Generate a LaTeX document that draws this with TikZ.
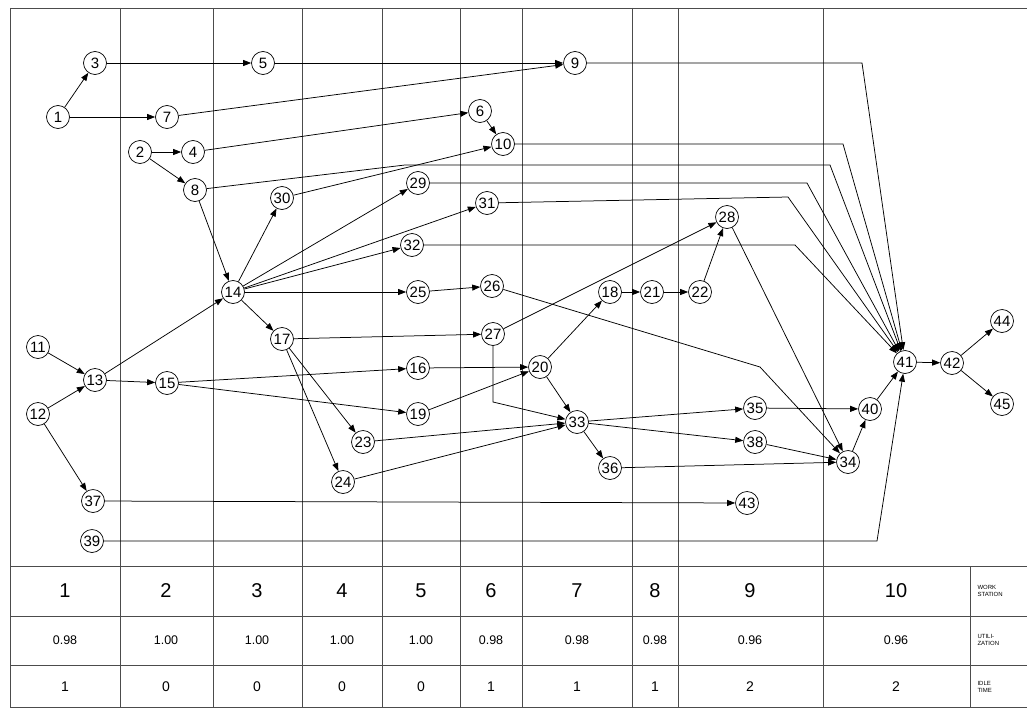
\documentclass[tikz,border=0pt]{standalone}
\usepackage{fontspec}
\setmainfont{Liberation Sans}
\usetikzlibrary{arrows.meta}

\begin{document}
\begin{tikzpicture}[x=1pt,y=-1pt,
  gridline/.style={line width=0.8pt,black!70},
  task/.style={circle,draw,line width=0.7pt,fill=white,minimum size=23pt,inner sep=0pt,
    font=\fontsize{15}{15}\selectfont},
  flow/.style={line width=0.75pt,-{Triangle[length=8pt,width=6pt]}},
  wsnum/.style={font=\fontsize{20}{20}\selectfont},
  utnum/.style={font=\fontsize{12.5}{12.5}\selectfont},
  idnum/.style={font=\fontsize{14}{14}\selectfont},
  rowlabel/.style={font=\fontsize{6}{6.5}\selectfont,align=left,anchor=west}]

\useasboundingbox (0,0) rectangle (1027,709);

% station grid and table rules
\draw[gridline] (10,8) -- (1027,8);
\draw[gridline] (10,8) -- (10,707);
\foreach \gx in {120,213,302,382,460,522,632,678,823}
  \draw[gridline] (\gx,8) -- (\gx,707);
\draw[gridline] (970,566) -- (970,707);
\foreach \gy in {566,616,665,707}
  \draw[gridline] (10,\gy) -- (1027,\gy);

% tasks
\node[task] (n1)  at (58,117)  {1};
\node[task] (n3)  at (95,63)   {3};
\node[task] (n5)  at (263,63)  {5};
\node[task] (n7)  at (167,117) {7};
\node[task] (n9)  at (575,63)  {9};
\node[task] (n2)  at (140,152) {2};
\node[task] (n4)  at (193,152) {4};
\node[task] (n6)  at (480,111) {6};
\node[task] (n10) at (503,144) {10};
\node[task] (n8)  at (195,190) {8};
\node[task] (n30) at (282,198) {30};
\node[task] (n29) at (418,183) {29};
\node[task] (n31) at (487,203) {31};
\node[task] (n32) at (412,245) {32};
\node[task] (n28) at (727,217) {28};
\node[task] (n14) at (233,292) {14};
\node[task] (n25) at (418,292) {25};
\node[task] (n26) at (492,286) {26};
\node[task] (n18) at (610,292) {18};
\node[task] (n21) at (652,292) {21};
\node[task] (n22) at (700,292) {22};
\node[task] (n17) at (282,339) {17};
\node[task] (n27) at (493,334) {27};
\node[task] (n11) at (38,347)  {11};
\node[task] (n13) at (95,380)  {13};
\node[task] (n12) at (38,414)  {12};
\node[task] (n15) at (167,383) {15};
\node[task] (n16) at (418,368) {16};
\node[task] (n20) at (540,367) {20};
\node[task] (n19) at (418,414) {19};
\node[task] (n23) at (363,442) {23};
\node[task] (n24) at (343,482) {24};
\node[task] (n33) at (577,422) {33};
\node[task] (n36) at (610,468) {36};
\node[task] (n35) at (755,408) {35};
\node[task] (n38) at (755,442) {38};
\node[task] (n34) at (848,462) {34};
\node[task] (n40) at (870,409) {40};
\node[task] (n41) at (905,362) {41};
\node[task] (n42) at (952,363) {42};
\node[task] (n44) at (1002,321) {44};
\node[task] (n45) at (1002,404) {45};
\node[task] (n43) at (747,503) {43};
\node[task] (n37) at (93,501)  {37};
\node[task] (n39) at (92,541)  {39};

% bend points of routed connectors
\coordinate (b9)  at (862,63);
\coordinate (b10) at (843,144);
\coordinate (b8a) at (405,165);
\coordinate (b8b) at (830,165);
\coordinate (b29) at (807,183);
\coordinate (b31) at (788,197);
\coordinate (b32) at (795,245);
\coordinate (b26) at (760,367);
\coordinate (b27) at (493,402);
\coordinate (b39) at (877,541);

% precedence relations
\draw[flow] (n1) -- (n3);
\draw[flow] (n1) -- (n7);
\draw[flow] (n3) -- (n5);
\draw[flow] (n5) -- (n9);
\draw[flow] (n7) -- (n9);
\draw[flow] (n2) -- (n4);
\draw[flow] (n2) -- (n8);
\draw[flow] (n4) -- (n6);
\draw[flow] (n6) -- (n10);
\draw[flow] (n30) -- (n10);
\draw[flow] (n8) -- (n14);
\draw[flow] (n13) -- (n14);
\draw[flow] (n11) -- (n13);
\draw[flow] (n12) -- (n13);
\draw[flow] (n12) -- (n37);
\draw[flow] (n13) -- (n15);
\draw[flow] (n14) -- (n30);
\draw[flow] (n14) -- (n29);
\draw[flow] (n14) -- (n31);
\draw[flow] (n14) -- (n32);
\draw[flow] (n14) -- (n25);
\draw[flow] (n14) -- (n17);
\draw[flow] (n25) -- (n26);
\draw[flow] (n17) -- (n27);
\draw[flow] (n17) -- (n23);
\draw[flow] (n17) -- (n24);
\draw[flow] (n15) -- (n16);
\draw[flow] (n15) -- (n19);
\draw[flow] (n16) -- (n20);
\draw[flow] (n19) -- (n20);
\draw[flow] (n20) -- (n18);
\draw[flow] (n20) -- (n33);
\draw[flow] (n18) -- (n21);
\draw[flow] (n21) -- (n22);
\draw[flow] (n22) -- (n28);
\draw[flow] (n27) -- (n28);
\draw[flow] (n27) -- (b27) -- (n33);
\draw[flow] (n23) -- (n33);
\draw[flow] (n24) -- (n33);
\draw[flow] (n33) -- (n35);
\draw[flow] (n33) -- (n38);
\draw[flow] (n33) -- (n36);
\draw[flow] (n36) -- (n34);
\draw[flow] (n38) -- (n34);
\draw[flow] (n28) -- (n34);
\draw[flow] (n26) -- (b26) -- (n34);
\draw[flow] (n35) -- (n40);
\draw[flow] (n34) -- (n40);
\draw[flow] (n40) -- (n41);
\draw[flow] (n37) -- (n43);
\draw[flow] (n9) -- (b9) -- (n41);
\draw[flow] (n10) -- (b10) -- (n41);
\draw[flow] (n8) -- (b8a) -- (b8b) -- (n41);
\draw[flow] (n29) -- (b29) -- (n41);
\draw[flow] (n31) -- (b31) -- (n41);
\draw[flow] (n32) -- (b32) -- (n41);
\draw[flow] (n39) -- (b39) -- (n41);
\draw[flow] (n41) -- (n42);
\draw[flow] (n42) -- (n44);
\draw[flow] (n42) -- (n45);

% station table
\foreach \cx/\ws/\ut/\id in {65/1/0.98/1, 166/2/1.00/0, 257/3/1.00/0, 342/4/1.00/0,
    421/5/1.00/0, 491/6/0.98/1, 577/7/0.98/1, 655/8/0.98/1, 750/9/0.96/2, 896/10/0.96/2} {
  \node[wsnum] (ws\ws) at (\cx,591) {\ws};
  \node[utnum] (ut\ws) at (\cx,640) {\ut};
  \node[idnum] (id\ws) at (\cx,687) {\id};
}
\node[rowlabel] (lws) at (974,591) {WORK\\STATION};
\node[rowlabel] (lut) at (974,640) {UTILI-\\ZATION};
\node[rowlabel] (lid) at (974,687) {IDLE\\TIME};

\end{tikzpicture}
\end{document}
